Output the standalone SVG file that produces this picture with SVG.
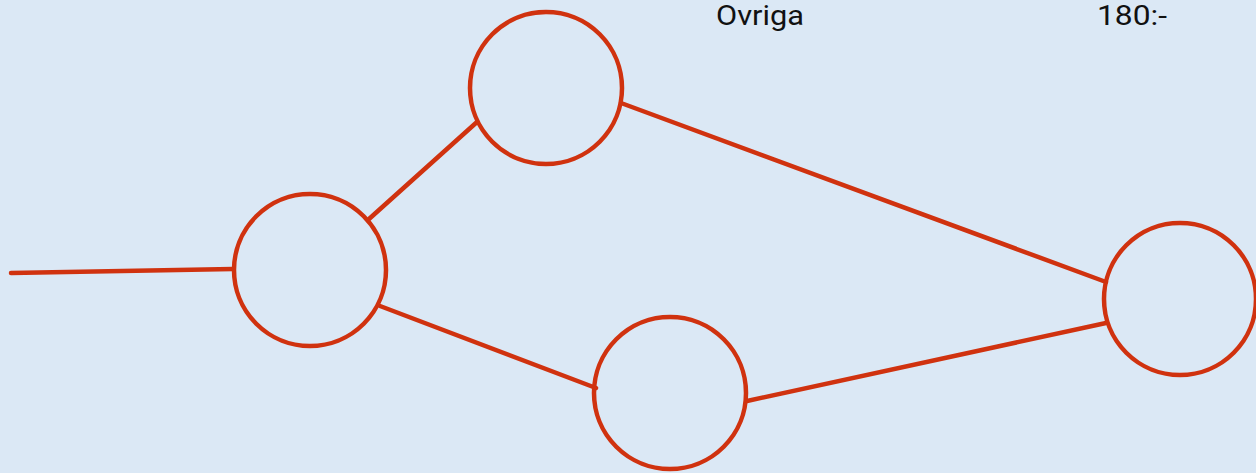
<svg xmlns="http://www.w3.org/2000/svg" width="1256" height="473" viewBox="0 0 1256 473">
<style>
.n{fill:none;stroke:#d0320f;stroke-width:4.5}
.e{stroke:#d0320f;stroke-width:4.5;stroke-linecap:round;fill:none}
.t{font-family:"Roboto","Liberation Sans",sans-serif;font-size:27px;fill:#111}
</style>
<rect width="1256" height="473" fill="#dbe8f5"/>
<g id="labels">
<text class="t" x="716" y="25" textLength="88" lengthAdjust="spacingAndGlyphs">Ovriga</text>
<text class="t" x="1097" y="25" textLength="70" lengthAdjust="spacingAndGlyphs">180:-</text>
</g>
<g id="connectors">
<line class="e" x1="11" y1="273" x2="233" y2="269"/>
<line class="e" x1="369" y1="219" x2="477" y2="122"/>
<line class="e" x1="380" y1="306" x2="596" y2="388"/>
<line class="e" x1="621" y1="103" x2="1106" y2="282"/>
<line class="e" x1="747" y1="401" x2="1106" y2="323"/>
</g>
<g id="nodeA"><circle class="n" cx="310" cy="270" r="76"/></g>
<g id="nodeB"><circle class="n" cx="546" cy="88" r="76"/></g>
<g id="nodeC"><circle class="n" cx="670" cy="393" r="76"/></g>
<g id="nodeD"><circle class="n" cx="1180" cy="299" r="76"/></g>
</svg>
